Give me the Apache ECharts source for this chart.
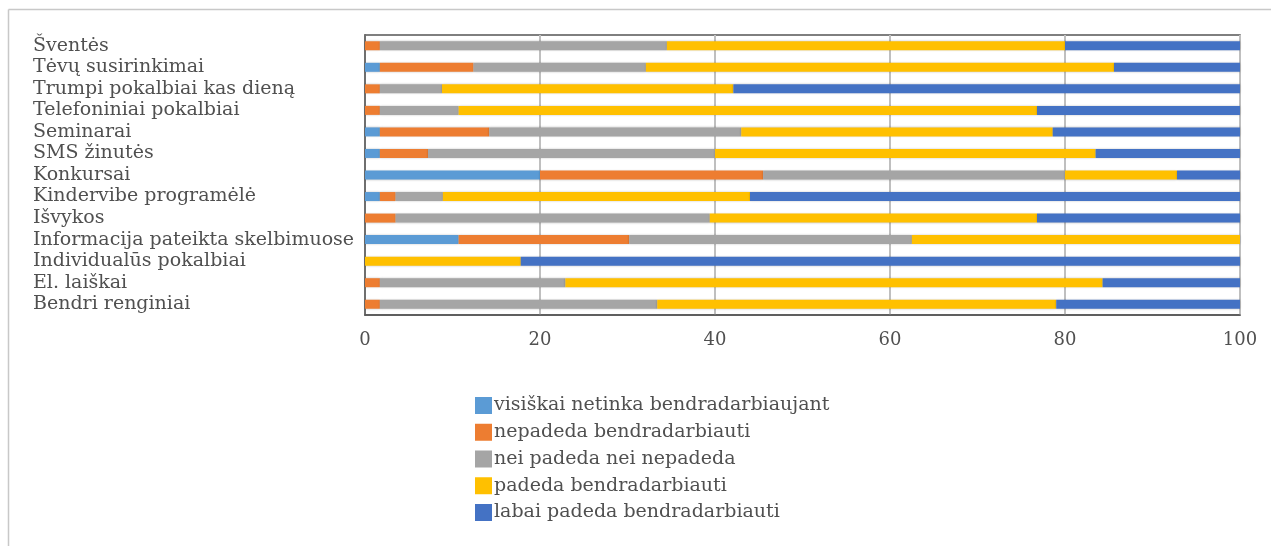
<!DOCTYPE html>
<html><head><meta charset="utf-8">
<script src="https://cdn.jsdelivr.net/npm/echarts@6/dist/echarts.min.js"></script>
<style>html,body{margin:0;padding:0;background:#fff}#c{width:1271px;height:546px}</style>
</head><body><div id="c"></div>
<script>
const categories = ["Šventės","Tėvų susirinkimai","Trumpi pokalbiai kas dieną","Telefoniniai pokalbiai","Seminarai","SMS žinutės","Konkursai","Kindervibe programėlė","Išvykos","Informacija pateikta skelbimuose","Individualūs pokalbiai","El. laiškai","Bendri renginiai"];
const seriesNames = ["visiškai netinka bendradarbiaujant","nepadeda bendradarbiauti","nei padeda nei nepadeda","padeda bendradarbiauti","labai padeda bendradarbiauti"];
const visiskaiNetinka = [0, 1.7, 0, 0, 1.7, 1.7, 20, 1.7, 0, 10.7, 0, 0, 0];
const nepadeda =        [1.7, 10.7, 1.7, 1.7, 12.5, 5.5, 25.5, 1.8, 3.5, 19.5, 0, 1.7, 1.7];
const neiPadeda =       [32.8, 19.7, 7.1, 9.0, 28.8, 32.8, 34.5, 5.4, 35.9, 32.3, 0, 21.2, 31.7];
const padeda =          [45.5, 53.5, 33.3, 66.1, 35.6, 43.5, 12.8, 35.1, 37.4, 37.5, 17.8, 61.4, 45.6];
const labaiPadeda =     [20.0, 14.4, 57.9, 23.2, 21.4, 16.5, 7.2, 56.0, 23.2, 0, 82.2, 15.7, 21.0];
const xTicks = [0, 20, 40, 60, 80, 100];
const colors = ["#5B9BD5","#ED7D31","#A5A5A5","#FFC000","#4472C4"];

const values = [visiskaiNetinka, nepadeda, neiPadeda, padeda, labaiPadeda];
const font = "DejaVu Serif";
const chart = echarts.init(document.getElementById('c'), null, {renderer:'canvas'});
chart.setOption({
  animation: false,
  color: colors,
  graphic: [
    {type:'line', shape:{x1:8.5,y1:9.5,x2:1271,y2:9.5}, style:{stroke:'#c8c8c8', lineWidth:1.5}},
    {type:'line', shape:{x1:8.5,y1:9.5,x2:8.5,y2:546}, style:{stroke:'#c8c8c8', lineWidth:1.5}}
  ],
  grid: {left:365, right:31, top:35, bottom:231, show:true, borderColor:'#555', borderWidth:1.5},
  legend: {
    orient:'vertical', left:470, top:391, itemWidth:17, itemHeight:17, itemGap:7.75,
    icon:'rect', data: seriesNames,
    textStyle:{fontFamily:font, fontSize:19, lineHeight:19, color:'#505050', padding:[0,0,0,-3]}
  },
  xAxis: {
    type:'value', min:0, max:100, interval:20,
    axisLine:{show:true, lineStyle:{color:'#555', width:1.5}},
    axisTick:{show:false},
    splitLine:{show:true, lineStyle:{color:'#bfbfbf', width:2}},
    axisLabel:{fontFamily:font, fontSize:18, color:'#505050', margin:16,
      formatter: v => xTicks.includes(v) ? String(v) : ''}
  },
  yAxis: {
    type:'category', data: categories, inverse:true,
    axisLine:{show:true, lineStyle:{color:'#555', width:1.5}},
    axisTick:{show:false},
    axisLabel:{interval:0, fontFamily:font, fontSize:19, lineHeight:19, color:'#505050', align:'left', margin:332}
  },
  series: seriesNames.map((n,i)=>({
    name:n, type:'bar', stack:'total', data: values[i], barWidth:9,
    itemStyle:{color:colors[i], shadowColor:'rgba(0,0,0,0.22)', shadowBlur:2, shadowOffsetY:0}
  }))
});
</script></body></html>
